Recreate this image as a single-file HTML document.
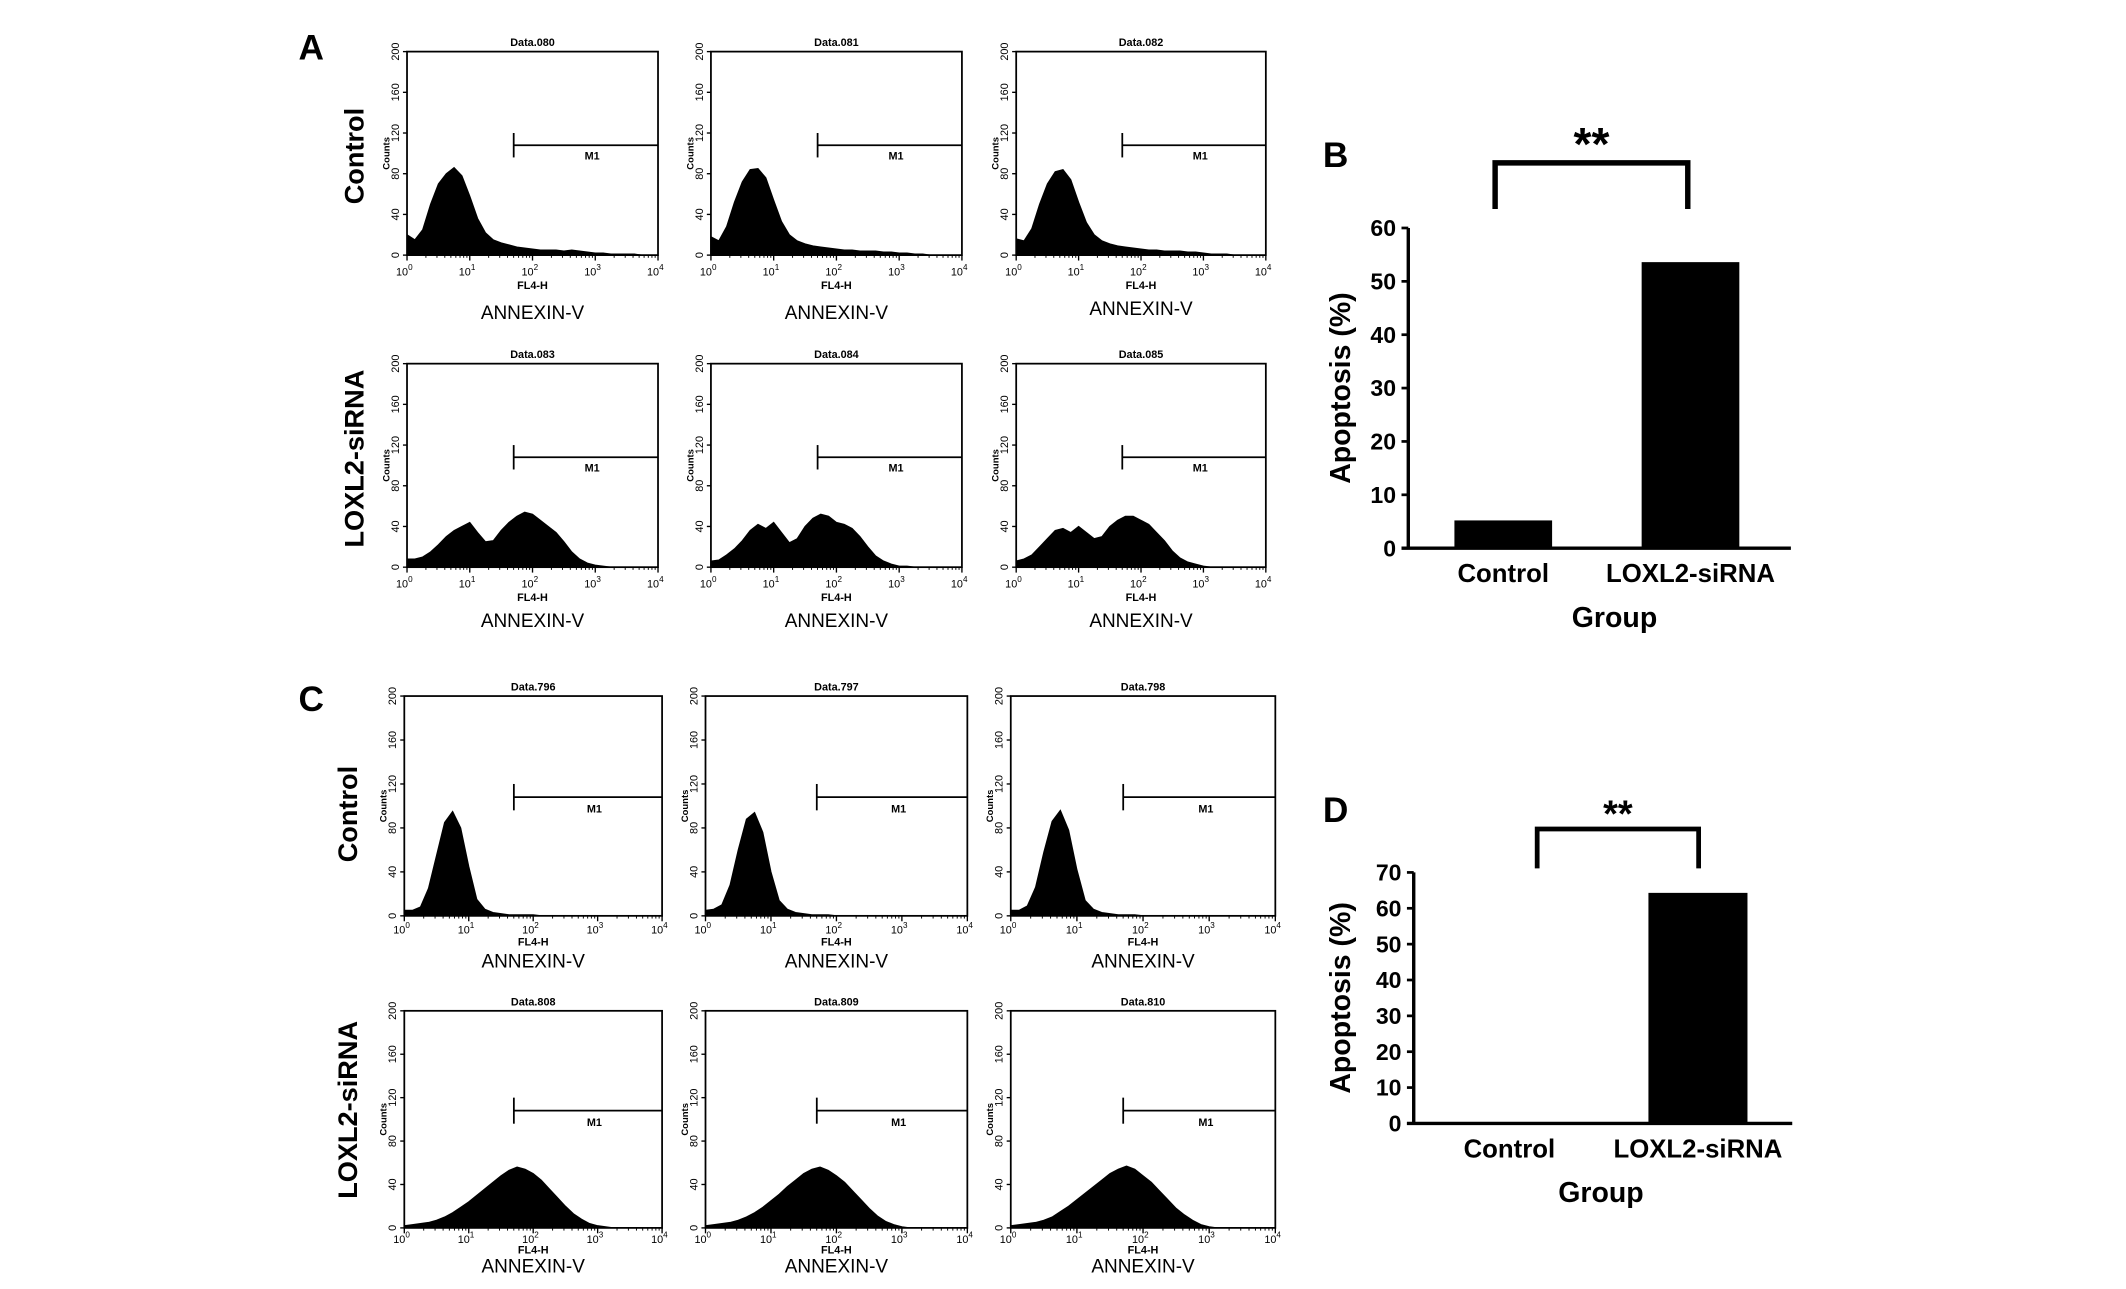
<!DOCTYPE html>
<html><head><meta charset="utf-8"><style>html,body{margin:0;padding:0;background:#fff}svg{display:block}text{font-family:"Liberation Sans",Arial,sans-serif}</style></head>
<body>
<svg id="fig" width="2126" height="1289" viewBox="0 0 1567 950" xmlns="http://www.w3.org/2000/svg">
<g id="root"></g>
</svg>
<script>
// Histogram data: counts at log10 intensity 0,0.125,...,4
const histControlA1=[20,15,25,50,70,80,86,78,58,36,22,15,12,10,8,7,6,5,5,5,4,5,4,3,2,2,1,1,1,1,0,0,0];
const histControlA2=[18,14,28,52,72,84,85,76,54,33,20,14,11,9,8,7,6,5,5,4,4,4,3,3,2,2,1,1,0,0,0,0,0];
const histControlA3=[16,14,26,50,70,82,84,74,52,32,20,14,11,9,8,7,6,5,5,4,4,4,3,3,2,1,1,1,0,0,0,0,0];
const histSiA1=[8,8,10,15,22,30,36,40,44,34,25,26,36,44,50,54,52,46,40,34,25,15,8,4,2,1,0,0,0,0,0,0,0];
const histSiA2=[6,7,12,18,26,36,42,38,44,34,24,28,40,48,52,50,44,42,38,30,20,11,6,3,1,1,0,0,0,0,0,0,0];
const histSiA3=[6,8,12,20,28,36,38,34,40,34,28,30,40,46,50,50,46,42,34,26,16,9,5,3,1,0,0,0,0,0,0,0,0];
const histControlC1=[5,5,8,25,55,85,95,80,45,15,6,3,2,1,1,1,1,0,0,0,0,0,0,0,0,0,0,0,0,0,0,0,0];
const histControlC2=[5,6,10,28,60,88,94,76,40,14,6,3,2,1,1,1,0,0,0,0,0,0,0,0,0,0,0,0,0,0,0,0,0];
const histControlC3=[5,5,9,26,58,86,96,78,42,14,6,3,2,1,1,1,0,0,0,0,0,0,0,0,0,0,0,0,0,0,0,0,0];
const histSiC1=[2,3,4,5,7,10,14,19,24,30,36,42,48,53,56,54,50,44,36,28,20,13,8,4,2,1,0,0,0,0,0,0,0];
const histSiC2=[2,3,4,5,7,10,14,19,25,31,38,44,50,54,56,53,48,42,34,26,18,11,6,3,1,0,0,0,0,0,0,0,0];
const histSiC3=[2,3,4,5,7,10,15,20,26,32,38,44,50,54,57,54,48,42,34,26,18,12,7,3,1,0,0,0,0,0,0,0,0];
const histTitles=["Data.080","Data.081","Data.082","Data.083","Data.084","Data.085","Data.796","Data.797","Data.798","Data.808","Data.809","Data.810"];
const countTicks=[0,40,80,120,160,200];
const decadeTicks=[0,1,2,3,4];
// Bar charts
const barCategories=["Control","LOXL2-siRNA"];
const barValuesB=[5.2,53.6];
const barValuesD=[0.3,64.3];
const yTicksB=[0,10,20,30,40,50,60];
const yTicksD=[0,10,20,30,40,50,60,70];

const NS="http://www.w3.org/2000/svg";
const root=document.getElementById('root');
function mk(tag,attrs,parent,txt){const e=document.createElementNS(NS,tag);for(const k in attrs)e.setAttribute(k,attrs[k]);if(txt!==undefined)e.textContent=txt;(parent||root).appendChild(e);return e;}

const hists=[histControlA1,histControlA2,histControlA3,histSiA1,histSiA2,histSiA3,histControlC1,histControlC2,histControlC3,histSiC1,histSiC2,histSiC3];
const boxes=[
 [300,38,185,150],[524,38,185,150],[749,38,184,150],
 [300,268,185,150],[524,268,185,150],[749,268,184,150],
 [298,513,190,162],[520,513,193,162],[745,513,195,162],
 [298,745,190,160],[520,745,193,160],[745,745,195,160]];
const annY=[235,235,232,462,462,462,713,713,713,938,938,938];
const offs=[[15,25],[15,25],[15,25],[15,25],[15,25],[15,25],[13,22],[13,22],[13,22],[11,19],[11,19],[11,19]];

hists.forEach((h,i)=>{
  const [L,T,W,H]=boxes[i];
  const g=mk('g',{});
  
  
  const xs=v=>L+v/4*W, ys=c=>T+H-c/200*H;
  let d='M'+xs(0)+','+ys(0);
  h.forEach((c,j)=>{d+=' L'+xs(j*0.125)+','+ys(c);});
  d+=' L'+xs(4)+','+ys(0)+' Z';
  const p=mk('path',{d:d,fill:'#000',stroke:'#000','stroke-width':0.8},g);
  
  
  mk('rect',{x:L,y:T,width:W,height:H,fill:'none',stroke:'#000','stroke-width':1.3},g);
  mk('text',{x:L+W/2,y:T-4,'font-size':8,'font-weight':'bold','text-anchor':'middle'},g,histTitles[i]);
  countTicks.forEach(c=>{
    mk('line',{x1:L-3,x2:L,y1:ys(c),y2:ys(c),stroke:'#000','stroke-width':1},g);
    mk('text',{x:0,y:0,'font-size':8,'text-anchor':'middle',transform:`translate(${L-6},${ys(c)}) rotate(-90)`},g,String(c));
  });
  mk('text',{x:0,y:0,'font-size':7,'font-weight':'bold','text-anchor':'middle',transform:`translate(${L-13},${ys(100)}) rotate(-90)`},g,'Counts');
  decadeTicks.forEach(v=>{
    mk('line',{x1:xs(v),x2:xs(v),y1:T+H,y2:T+H+4,stroke:'#000','stroke-width':1},g);
    const t=mk('text',{x:xs(v)-2,y:T+H+offs[i][0],'font-size':8,'text-anchor':'middle'},g,'10');
    mk('tspan',{dy:-4,'font-size':6},t,String(v));
    if(v<4){for(let m=2;m<10;m++){const xv=xs(v+Math.log10(m));mk('line',{x1:xv,x2:xv,y1:T+H,y2:T+H+2,stroke:'#000','stroke-width':0.7},g);}}
  });
  mk('text',{x:xs(2),y:T+H+offs[i][1],'font-size':8,'font-weight':'bold','text-anchor':'middle'},g,'FL4-H');
  mk('text',{x:xs(2),y:annY[i],'font-size':14,'text-anchor':'middle'},g,'ANNEXIN-V');
  const gx=xs(1.7);
  mk('line',{x1:gx,x2:gx,y1:ys(120),y2:ys(96),stroke:'#000','stroke-width':1.3},g);
  mk('line',{x1:gx,x2:L+W,y1:ys(108),y2:ys(108),stroke:'#000','stroke-width':1.3},g);
  mk('text',{x:xs(2.95),y:ys(94),'font-size':8,'font-weight':'bold','text-anchor':'middle'},g,'M1');
});

// Row labels
[[268,115,'Control'],[268,338,'LOXL2-siRNA'],[263,600,'Control'],[263,818,'LOXL2-siRNA']].forEach(r=>{
  const t=mk('text',{x:0,y:0,'font-size':20,'font-weight':'bold','text-anchor':'middle',transform:`translate(${r[0]},${r[1]}) rotate(-90)`},root,r[2]);
  
  
});
// Panel letters
[[220,44,'A'],[975,123,'B'],[220,524,'C'],[975,606,'D']].forEach(r=>{
  const t=mk('text',{x:r[0],y:r[1],'font-size':26,'font-weight':'bold','font-family':'Liberation Serif, serif'},root,r[2]);
  
  
});

function barChart(name,vals,ticks,ax){
  const g=mk('g',{});
  
  
  const ymax=ticks[ticks.length-1];
  const ys=v=>ax.y0-(v/ymax)*(ax.y0-ax.y1);
  mk('line',{x1:ax.x0,x2:ax.x0,y1:ax.y1,y2:ax.y0,stroke:'#000','stroke-width':2.5},g);
  mk('line',{x1:ax.x0-5,x2:ax.xr,y1:ax.y0,y2:ax.y0,stroke:'#000','stroke-width':2.5},g);
  ticks.forEach(t=>{
    mk('line',{x1:ax.x0-5,x2:ax.x0,y1:ys(t),y2:ys(t),stroke:'#000','stroke-width':2},g);
    mk('text',{x:ax.x0-9,y:ys(t)+6,'font-size':17,'font-weight':'bold','text-anchor':'end'},g,String(t));
  });
  vals.forEach((v,i)=>{
    const r=mk('rect',{x:ax.bx[i],y:ys(v),width:ax.bw,height:ax.y0-ys(v),fill:'#000'},g);
    
    
    mk('text',{x:ax.bx[i]+ax.bw/2,y:ax.y0+25,'font-size':19,'font-weight':'bold','text-anchor':'middle'},g,barCategories[i]);
  });
  mk('text',{x:ax.gx,y:ax.y0+58,'font-size':21,'font-weight':'bold','text-anchor':'middle'},g,'Group');
  mk('text',{x:0,y:0,'font-size':21,'font-weight':'bold','text-anchor':'middle',transform:`translate(${ax.tx},${(ax.y0+ax.y1)/2}) rotate(-90)`},g,'Apoptosis (%)');
  const br=ax.br;
  const bp=mk('path',{d:`M${br[0]},${br[3]} L${br[0]},${br[2]} L${br[1]},${br[2]} L${br[1]},${br[3]}`,fill:'none',stroke:'#000','stroke-width':br[4]},g);
  
  
  mk('text',{x:(br[0]+br[1])/2,y:br[2]+br[6],'font-size':br[5],'font-weight':'bold','text-anchor':'middle'},g,'**');
}
barChart('bar-chart-b',barValuesB,yTicksB,{x0:1038,xr:1320,y0:404,y1:168,bx:[1072,1210],bw:72,gx:1190,tx:995,br:[1102,1244,120,154,4,34,-2]});
barChart('bar-chart-d',barValuesD,yTicksD,{x0:1042,xr:1321,y0:828,y1:643,bx:[1076,1215],bw:73,gx:1180,tx:995,br:[1133,1252,611,640,3.5,28,-2]});
</script>
</body></html>
